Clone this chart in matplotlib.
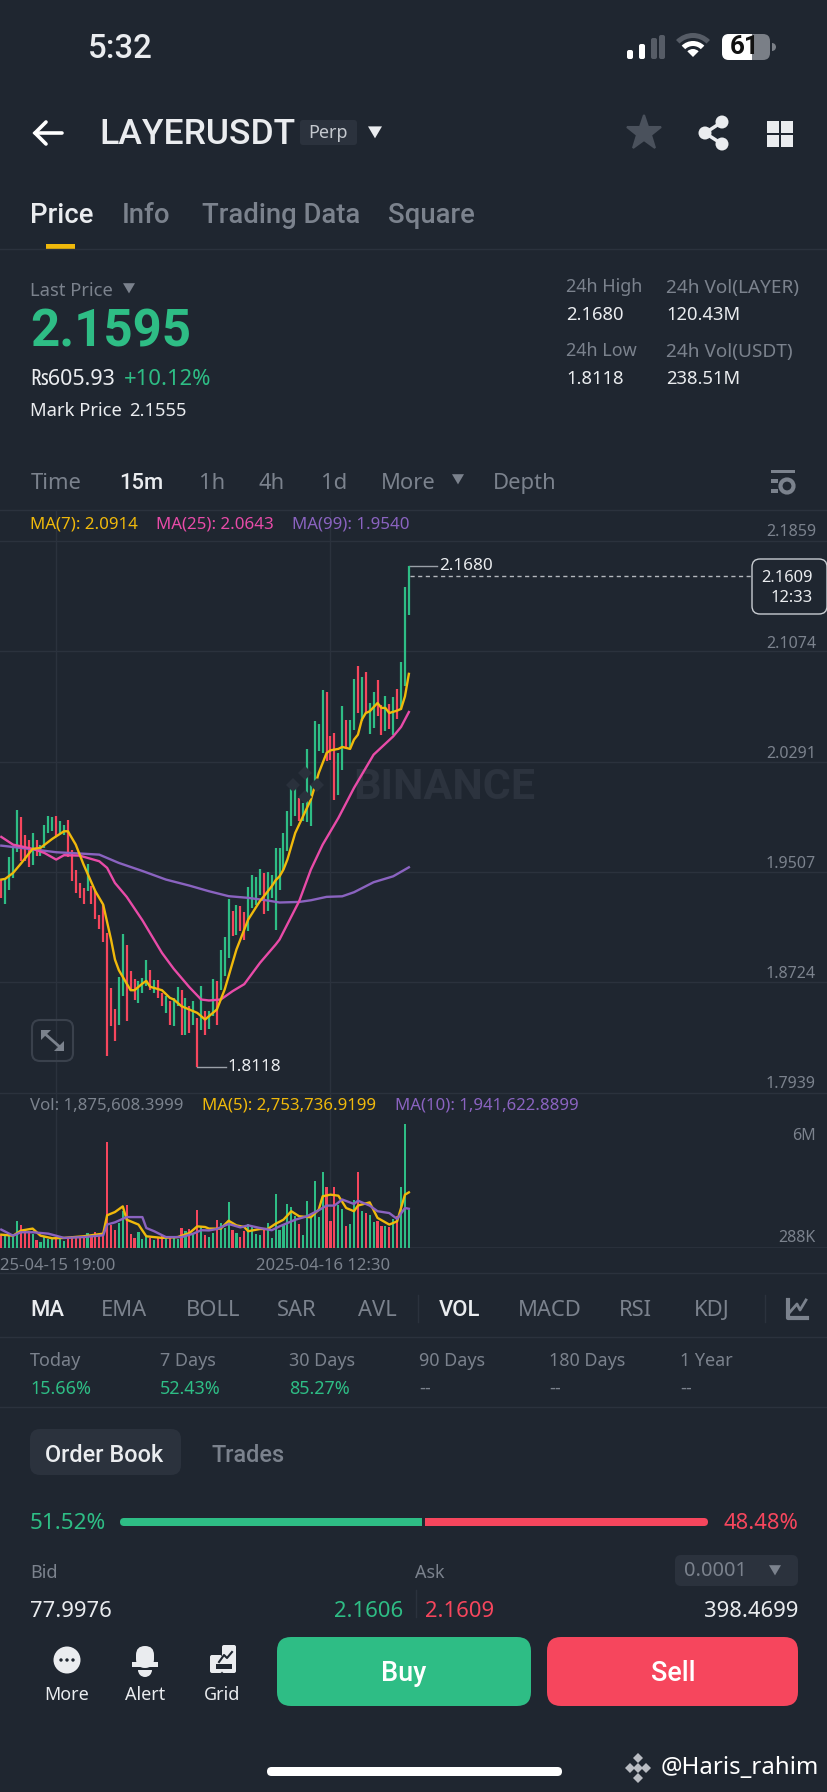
import matplotlib
matplotlib.use("Agg")
from matplotlib import pyplot as plt
from matplotlib.patches import FancyBboxPatch, Rectangle, Circle, Polygon, Wedge

plt.rcParams['font.family'] = ['Noto Sans', 'DejaVu Sans']

# -- DATA --:
candle_up = ("RGGGGRRRGR" "GGGGRGGRRR" "RRGRRRRRRR" "GGRRRGGGRG" "RRGRGGRGRG"
             "RGRGGRGGGR" "GRRGGGGRGG" "GGGGGGRGGG" "GGGRRRGGRG" "GRGRGGRRGR" "GRGGG")
highs = [1.9453, 1.9465, 1.9614, 1.9678, 1.9950, 1.9896, 1.9772, 1.9737, 1.9784, 1.9737,
         1.9701, 1.9843, 1.9907, 1.9898, 1.9907, 1.9872, 1.9843, 1.9874, 1.9666, 1.9524,
         1.9429, 1.9394, 1.9566, 1.9406, 1.9370, 1.9204, 1.9275, 1.9074, 1.8684, 1.8530,
         1.8762, 1.9069, 1.8991, 1.8802, 1.8750, 1.8731, 1.8755, 1.8885, 1.8809, 1.8743,
         1.8743, 1.8648, 1.8625, 1.8589, 1.8613, 1.8688, 1.8672, 1.8613, 1.8553, 1.8589,
         1.8471, 1.8700, 1.8518, 1.8518, 1.8750, 1.8731, 1.8951, 1.9046, 1.9316, 1.9228,
         1.9275, 1.9268, 1.9221, 1.9398, 1.9488, 1.9472, 1.9528, 1.9500, 1.9507, 1.9483,
         1.9678, 1.9678, 1.9784, 1.9943, 2.0099, 2.0108, 2.0033, 1.9997, 2.0381, 2.0127,
         2.0577, 2.0558, 2.0802, 2.0785, 2.0470, 2.0494, 2.0352, 2.0684, 2.0589, 2.0584,
         2.0878, 2.0968, 2.0889, 2.0927, 2.0707, 2.0785, 2.0873, 2.0695, 2.0754, 2.0702,
         2.0750, 2.0809, 2.0998, 2.1531, 2.1680]
lows = [1.9323, 1.9280, 1.9382, 1.9465, 1.9647, 1.9583, 1.9583, 1.9543, 1.9559, 1.9619,
        1.9619, 1.9678, 1.9784, 1.9796, 1.9761, 1.9784, 1.9772, 1.9614, 1.9441, 1.9358,
        1.9323, 1.9282, 1.9370, 1.9280, 1.9176, 1.9105, 1.9008, 1.8198, 1.8411, 1.8305,
        1.8423, 1.8629, 1.8447, 1.8660, 1.8601, 1.8577, 1.8648, 1.8695, 1.8672, 1.8648,
        1.8613, 1.8553, 1.8506, 1.8423, 1.8411, 1.8553, 1.8352, 1.8352, 1.8364, 1.8423,
        1.8118, 1.8383, 1.8352, 1.8392, 1.8482, 1.8419, 1.8667, 1.8766, 1.8897, 1.9050,
        1.9062, 1.9086, 1.9027, 1.9090, 1.9251, 1.9275, 1.9346, 1.9211, 1.9228, 1.9322,
        1.9093, 1.9382, 1.9524, 1.9654, 1.9831, 1.9907, 1.9867, 1.9867, 1.9860, 1.9831,
        2.0139, 2.0364, 2.0352, 2.0293, 2.0305, 2.0016, 2.0056, 2.0234, 2.0388, 2.0388,
        2.0518, 2.0636, 2.0577, 2.0636, 2.0489, 2.0530, 2.0612, 2.0478, 2.0506, 2.0523,
        2.0482, 2.0596, 2.0660, 2.0826, 2.1334]
ma7_idx = [0, 1, 3, 5, 8, 10, 13, 16, 17, 19, 21, 24, 26, 28, 29, 30, 32, 33, 34, 36, 37, 38, 41, 43, 44,
           46, 50, 52, 55, 57, 60, 63, 66, 67, 69, 70, 71, 72, 73, 75, 78, 79, 81, 83, 84, 86, 87, 89, 90,
           91, 92, 93, 94, 96, 97, 98, 99, 101, 102, 103, 104]
ma7_val = [1.9453, 1.9458, 1.9500, 1.9566, 1.9671, 1.9678, 1.9742, 1.9796, 1.9796, 1.9701, 1.9559, 1.9370,
           1.9275, 1.9027, 1.8885, 1.8809, 1.8714, 1.8667, 1.8667, 1.8714, 1.8733, 1.8691, 1.8667, 1.8613,
           1.8601, 1.8553, 1.8506, 1.8459, 1.8530, 1.8672, 1.8956, 1.9169, 1.9300, 1.9334, 1.9405, 1.9448,
           1.9476, 1.9524, 1.9595, 1.9784, 1.9962, 2.0021, 2.0210, 2.0352, 2.0371, 2.0381, 2.0395, 2.0381,
           2.0447, 2.0482, 2.0589, 2.0636, 2.0648, 2.0707, 2.0672, 2.0672, 2.0636, 2.0653, 2.0665, 2.0754,
           2.0914]
ma25_idx = [0, 3, 8, 11, 14, 16, 20, 25, 27, 29, 32, 36, 41, 44, 48, 51, 53, 56, 59, 62, 66, 70, 71, 76,
            79, 82, 86, 90, 95, 100, 102, 104]
ma25_val = [1.9756, 1.9701, 1.9671, 1.9642, 1.9595, 1.9626, 1.9623, 1.9583, 1.9536, 1.9429, 1.9330, 1.9164,
            1.8932, 1.8819, 1.8688, 1.8601, 1.8594, 1.8601, 1.8660, 1.8710, 1.8861, 1.8991, 1.9027, 1.9299,
            1.9524, 1.9701, 1.9890, 2.0104, 2.0340, 2.0470, 2.0537, 2.0643]
ma99_idx = [0, 5, 10, 14, 20, 25, 30, 36, 42, 48, 53, 58, 63, 68, 71, 76, 79, 83, 87, 90, 95, 100, 104]
ma99_val = [1.9694, 1.9678, 1.9661, 1.9647, 1.9638, 1.9630, 1.9571, 1.9514, 1.9453, 1.9410, 1.9370, 1.9335,
            1.9323, 1.9304, 1.9290, 1.9294, 1.9306, 1.9330, 1.9334, 1.9363, 1.9434, 1.9476, 1.9540]
price_ticks = [2.1859, 2.1074, 2.0291, 1.9507, 1.8724, 1.7939]
price_high = 2.1680
price_low = 1.8118
price_now = 2.1609

volumes = [.66, .66, .58, .61, 1.32, 1.16, .86, .83, .71, .41, .30, .54, .46, .45, .54, .45, .36, .46, .58, .61,
           .48, .54, .74, .66, .81, .71, .74, 5.23, 1.14, .91, 1.24, 1.82, 2.15, .71, .50, .78, .45, .61, .50, .41,
           .54, .58, .58, .61, .58, .45, .99, .86, .96, .74, 1.90, 1.04, .63, .54, .74, 1.37, 1.24, .99, 2.28, .87,
           .74, .53, .83, 1.19, 1.07, .71, .66, .91, 1.24, .50, 2.69, .91, 1.20, 2.18, 2.03, 1.57, 1.20, .66, 2.34,
           1.49, 3.30, 1.52, 3.76, 3.00, 1.32, 3.00, 2.15, 1.95, 1.11, 1.19, 2.39, 3.76, 1.82, 1.73, 1.65, 1.27,
           1.35, 1.11, 1.11, 1.02, 1.44, 1.60, 3.00, 6.14, 1.8756]
vol_ma5_idx = [0, 3, 5, 8, 10, 13, 16, 21, 26, 27, 29, 31, 32, 35, 37, 41, 45, 48, 50, 52, 53, 56, 58, 60, 62,
               63, 66, 68, 70, 72, 74, 76, 79, 81, 82, 84, 86, 88, 90, 91, 94, 96, 99, 101, 103, 104]
vol_ma5_val = [.66, .61, .86, .96, .61, .48, .50, .58, .71, 1.62, 1.78, 2.06, 1.40, 1.16, .58, .50, .54, .74, 1.07,
               1.04, .96, .96, 1.35, 1.12, 1.04, .83, .94, .94, 1.20, 1.40, 1.82, 1.57, 1.52, 1.90, 2.56, 2.64,
               2.59, 1.98, 1.82, 2.10, 2.26, 1.49, 1.16, 1.32, 2.64, 2.7537]
vol_ma10_idx = [0, 3, 5, 8, 12, 16, 21, 26, 27, 29, 32, 36, 37, 39, 42, 46, 49, 51, 53, 55, 58, 61, 63, 66, 69,
                71, 75, 78, 81, 83, 85, 87, 90, 91, 94, 96, 99, 101, 103, 104]
vol_ma10_val = [.91, .61, .78, .78, .71, .50, .54, .63, 1.16, 1.27, 1.53, 1.53, .99, .83, .54, .54, .71, .88, .87,
                .94, 1.19, 1.02, 1.12, .99, .88, 1.07, 1.40, 1.57, 1.87, 2.10, 2.10, 2.40, 2.18, 2.34, 2.10, 1.82,
                1.73, 1.44, 1.98, 1.9416]
time_idx = [14, 84]
time_labels = ["25-04-15 19:00", "2025-04-16 12:30"]

order_pcts = [51.52, 48.48]

# -- STYLE --:
BG = "#1f2630"
GRID = "#2b323d"
GREEN = "#2ebd85"
RED = "#f6465d"
YELLOW = "#f0b90b"
PINK = "#e84ba8"
PURPLE = "#8a63c0"
GREY = "#7b828d"
WHITE = "#eaecef"

W, H = 828, 1792
fig = plt.figure(figsize=(W / 100, H / 100), dpi=100, facecolor=BG)


def px_axes(top, bottom):
    return fig.add_axes([0, 1 - bottom / H, 1, (bottom - top) / H], facecolor="none")


# -- CHART --:
ax = px_axes(510, 1092.7)
ax.set_xlim(-0.332, 210.95)
ax.set_ylim(1.7939, 2.2078)
ax.set_axis_off()
for tick in price_ticks[:-1]:
    ax.axhline(tick, color=GRID, lw=1, zorder=1)
for t in time_idx:
    ax.axvline(t, color=GRID, lw=1, zorder=1)

ax.text(0.537, 0.524, "BINANCE", transform=ax.transAxes, color="#2c333e", fontsize=31, fontweight="bold",
        family="Roboto", ha="center", va="center", zorder=1.5)

colors = [GREEN if c == "G" else RED for c in candle_up]
ax.vlines(range(len(highs)), lows, highs, colors=colors, lw=1.6, zorder=3)
ax.plot(ma99_idx, ma99_val, color=PURPLE, lw=1.7, zorder=4)
ax.plot(ma25_idx, ma25_val, color=PINK, lw=1.7, zorder=4)
ax.plot(ma7_idx, ma7_val, color=YELLOW, lw=1.7, zorder=5)

last = len(highs) - 1
low_i = lows.index(min(lows))
ax.plot([last, last + 7.3], [price_high, price_high], color="#9aa0a8", lw=1, zorder=2)
ax.plot([low_i, low_i + 7.3], [price_low, price_low], color="#9aa0a8", lw=1, zorder=2)
ax.text(last + 7.7, price_high, "%.4f" % price_high, color=WHITE, fontsize=12.3, va="center")
ax.text(low_i + 7.7, price_low, "%.4f" % price_low, color=WHITE, fontsize=12.3, va="center")
ax.plot([last + 0.3, 191.8], [price_now, price_now], color="#b4b8be", lw=1, dashes=(3, 2.5), zorder=3)

# -- VOLUME --:
vax = px_axes(1093, 1248)
vax.set_xlim(ax.get_xlim())
vax.set_ylim(0, 155 * 0.0495)
vax.set_axis_off()
vax.axhline(0, color=GRID, lw=2, zorder=1)
for t in time_idx:
    vax.axvline(t, color=GRID, lw=1, zorder=1)
vax.bar(range(len(volumes)), volumes, width=0.55, color=colors, zorder=3)
vax.plot(vol_ma5_idx, vol_ma5_val, color=YELLOW, lw=1.7, zorder=4)
vax.plot(vol_ma10_idx, vol_ma10_val, color=PURPLE, lw=1.7, zorder=5)
for t, label in zip(time_idx, time_labels):
    vax.annotate(label, xy=(t, 0), xytext=(42.8, -13), textcoords="offset points", ha="right", va="center",
                 color=GREY, fontsize=12, annotation_clip=False)

# -- APP SCREEN AROUND THE CHART --:
ui = fig.add_axes([0, 0, 1, 1], facecolor="none")
ui.set_xlim(0, W)
ui.set_ylim(H, 0)
ui.set_axis_off()


def txt(x, y, s, color=WHITE, size=18, ha="left", weight="normal", **kw):
    ui.text(x, y + 3.5, s, color=color, fontsize=size * 0.72, ha=ha, va="center", fontweight=weight, **kw)


def rbox(x0, y0, x1, y1, r, fc="none", ec="none", lw=1):
    ui.add_patch(FancyBboxPatch((x0 + r, y0 + r), x1 - x0 - 2 * r, y1 - y0 - 2 * r,
                                boxstyle="round,pad=%g,rounding_size=%g" % (r, r), fc=fc, ec=ec, lw=lw))


def tri(x, y, size=6, color=GREY):
    ui.add_patch(Polygon([(x - size, y - size * 0.8), (x + size, y - size * 0.8), (x, y + size * 0.9)], fc=color, ec="none"))


def hline(y, x0=0, x1=W):
    ui.plot([x0, x1], [y, y], color=GRID, lw=1)


# status bar
txt(88, 45, "5:32", size=33, weight="medium", family="Roboto")
for x, h, c in zip([627, 639, 651, 659], [9, 15, 21, 24], ["white", "white", "#565c66", "#565c66"]):
    rbox(x, 59 - h, x + 6, 59, 2, fc=c)
ui.add_patch(Wedge((693, 57), 24, 225, 315, width=5, fc="#565c66"))
ui.add_patch(Wedge((693, 57), 16, 225, 315, width=5, fc="white"))
ui.add_patch(Wedge((693, 57), 8, 225, 315, fc="white"))
rbox(722, 34, 770, 60, 7, fc="#7a7f87")
rbox(722, 34, 752, 60, 7, fc="white")
ui.add_patch(Rectangle((745, 34), 7, 26, fc="white"))
txt(745, 44, "61", color="#111111", size=26, ha="center", weight="bold", family="Roboto")
ui.add_patch(Wedge((772, 47), 4, 270, 90, fc="#7a7f87"))

# header
ui.plot([35, 62], [133, 133], color="white", lw=2.6, solid_capstyle="round")
ui.plot([46, 35, 46], [122, 133, 144], color="white", lw=2.6, solid_capstyle="round", solid_joinstyle="miter")
txt(99, 131, "LAYERUSDT", size=35.5, weight="medium", family="Roboto")
rbox(300, 120, 357, 145, 3, fc="#2b323d")
txt(328.5, 130, "Perp", color="#c4c8ce", size=18, ha="center")
tri(375, 132, 7, WHITE)
ui.plot([644], [133], marker="*", ms=26, color="#4a515c", mec="#4a515c", mew=1.5)
for cx, cy in [(705, 133), (722, 122), (722, 144)]:
    ui.add_patch(Circle((cx, cy), 6.5, fc=WHITE))
ui.plot([722, 705, 722], [122, 133, 144], color=WHITE, lw=2.5)
for x, y in [(767, 121), (781, 121), (767, 135), (781, 135)]:
    ui.add_patch(Rectangle((x, y), 12, 12, fc=WHITE))

# tabs
for x, s, c in [(30, "Price", WHITE), (122, "Info", GREY), (202, "Trading Data", GREY), (388, "Square", GREY)]:
    txt(x, 212, s, color=c, size=27.5, weight="medium", family="Roboto")
ui.add_patch(Rectangle((46, 244), 29, 5, fc=YELLOW))
hline(249.5)

# price block
txt(30, 287, "Last Price", color=GREY, size=18.4)
tri(129, 288, 6)
txt(30, 329, "2.1595", color=GREEN, size=51, weight="bold", family="Roboto")
txt(30, 376, "₨605.93", size=21.5)
txt(124, 376, "+10.12%", color=GREEN, size=22)
txt(30, 408, "Mark Price", size=18.4)
txt(129, 408, "2.1555", size=18.4)
for x, a, b, c, d, label_size in [(566, "24h High", "2.1680", "24h Low", "1.8118", 18),
                                  (666, "24h Vol(LAYER)", "120.43M", "24h Vol(USDT)", "238.51M", 19)]:
    txt(x, 284, a, color=GREY, size=label_size)
    txt(x, 311, b, size=18.4)
    txt(x, 348, c, color=GREY, size=label_size)
    txt(x, 375, d, size=18.4)

# interval row
for x, s, c, w, f in [(31, "Time", GREY, "normal", "Noto Sans"), (119, "15m", WHITE, "medium", "Roboto"),
                      (199, "1h", GREY, "normal", "Noto Sans"), (259, "4h", GREY, "normal", "Noto Sans"),
                      (321, "1d", GREY, "normal", "Noto Sans"), (381, "More", GREY, "normal", "Noto Sans"),
                      (493, "Depth", GREY, "normal", "Noto Sans")]:
    txt(x, 480, s, color=c, size=22, weight=w, family=f)
tri(458, 479, 6)
ui.add_patch(Rectangle((771, 470), 24, 3, fc=GREY))
ui.add_patch(Rectangle((771, 479), 7, 4, fc=GREY))
ui.add_patch(Rectangle((771, 489), 7, 4, fc=GREY))
ui.add_patch(Circle((787, 486), 6.5, fc="none", ec=GREY, lw=3))
hline(510.5)

txt(30, 521, "MA(7): 2.0914", color=YELLOW, size=16.9)
txt(156, 521, "MA(25): 2.0643", color=PINK, size=16.9)
txt(292, 521, "MA(99): 1.9540", color=PURPLE, size=16.9)
price_label_y = [529, 640, 750, 860, 971, 1080]
for tick, y in zip(price_ticks, price_label_y):
    txt(816, y, "%.4f" % tick, color=GREY, size=16, ha="right")

rbox(752, 559, 827, 614, 8, fc=BG, ec="#c8ccd1", lw=1)
txt(813, 574, "%.4f" % price_now, size=16.5, ha="right")
txt(813, 595, "12:33", size=16.5, ha="right")

# logo next to the BINANCE watermark
for x, y in [(305, 773), (293, 785), (317, 785), (305, 797)]:
    ui.add_patch(Polygon([(x, y - 7), (x + 7, y), (x, y + 7), (x - 7, y)], fc="#2a313c"))

# expand button
rbox(32, 1020, 73, 1061, 8, fc="none", ec="#3a414c", lw=1.5)
ui.add_patch(Polygon([(41, 1030), (51, 1030), (41, 1040)], fc=GREY))
ui.add_patch(Polygon([(64, 1051), (54, 1051), (64, 1041)], fc=GREY))
ui.plot([44, 61], [1033, 1048], color=GREY, lw=2)

hline(1093)
txt(30, 1102.5, "Vol: 1,875,608.3999", color=GREY, size=16.8)
txt(202, 1102.5, "MA(5): 2,753,736.9199", color=YELLOW, size=16.8)
txt(395, 1102.5, "MA(10): 1,941,622.8899", color=PURPLE, size=16.8)
txt(816, 1132, "6M", color=GREY, size=16, ha="right")
txt(816, 1234, "288K", color=GREY, size=16, ha="right")
hline(1273)

# indicator row
for x, s, c, w, f in [(30, "MA", WHITE, "medium", "Roboto"), (101, "EMA", GREY, "normal", "Noto Sans"),
                      (186, "BOLL", GREY, "normal", "Noto Sans"), (277, "SAR", GREY, "normal", "Noto Sans"),
                      (358, "AVL", GREY, "normal", "Noto Sans"), (439, "VOL", WHITE, "medium", "Roboto"),
                      (518, "MACD", GREY, "normal", "Noto Sans"), (619, "RSI", GREY, "normal", "Noto Sans"),
                      (694, "KDJ", GREY, "normal", "Noto Sans")]:
    txt(x, 1307, s, color=c, size=22, weight=w, family=f)
ui.plot([418, 418], [1295, 1322], color=GRID, lw=1)
ui.plot([765, 765], [1295, 1322], color=GRID, lw=1)
ui.plot([788, 788, 807], [1300, 1318, 1318], color=GREY, lw=3)
ui.plot([790, 797, 800, 806], [1312, 1304, 1310, 1300], color=GREY, lw=2)
hline(1337)

# change stats
for x, a, b in [(30, "Today", "15.66%"), (160, "7 Days", "52.43%"), (289, "30 Days", "85.27%"),
                (419, "90 Days", "--"), (549, "180 Days", "--"), (680, "1 Year", "--")]:
    txt(x, 1358, a, color=GREY, size=18)
    txt(x, 1385, b, color=GREEN if b != "--" else GREY, size=18)
hline(1407)

# order book
rbox(30, 1429, 181, 1475, 10, fc="#2b323d")
txt(45, 1452, "Order Book", size=23.5, weight="medium", family="Roboto")
txt(212, 1452, "Trades", color=GREY, size=23.5, weight="medium", family="Roboto")
txt(30, 1520, "%.2f%%" % order_pcts[0], color=GREEN, size=22.5)
txt(798, 1520, "%.2f%%" % order_pcts[1], color=RED, size=22, ha="right")
split = 120 + 588 * order_pcts[0] / 100
rbox(120, 1518, split - 1, 1526, 4, fc=GREEN)
rbox(split + 2.5, 1518, 708, 1526, 4, fc=RED)
ui.add_patch(Rectangle((split - 6, 1518), 5, 8, fc=GREEN))
ui.add_patch(Rectangle((split + 2.5, 1518), 5, 8, fc=RED))
txt(30, 1569, "Bid", color=GREY, size=18)
txt(415, 1569, "Ask", color=GREY, size=18)
rbox(675, 1555, 798, 1586, 6, fc="#2b323d")
txt(684, 1568, "0.0001", color=GREY, size=20)
tri(775, 1570, 6)
txt(30, 1608, "77.9976", size=22)
txt(403, 1608, "2.1606", color=GREEN, size=22, ha="right")
txt(425, 1608, "2.1609", color=RED, size=22)
txt(798, 1608, "398.4699", size=22, ha="right")
ui.plot([416, 416], [1590, 1617], color=GRID, lw=1)

# bottom bar
ui.add_patch(Circle((67, 1660), 13.5, fc=WHITE))
for x in [61, 67, 73]:
    ui.add_patch(Circle((x, 1660), 1.7, fc=BG))
ui.add_patch(FancyBboxPatch((136, 1646), 18, 22, boxstyle="round,pad=0,rounding_size=9", fc=WHITE, ec="none"))
ui.add_patch(Rectangle((132, 1662), 26, 5, fc=WHITE))
ui.add_patch(Wedge((145, 1670), 7, 0, 180, fc=WHITE, ec="none"))
rbox(210, 1655, 222, 1673, 2, fc=WHITE)
rbox(222, 1645, 236, 1673, 2, fc=WHITE)
ui.plot([219, 224, 227, 232], [1662, 1655, 1658, 1652], color=BG, lw=1.5)
ui.add_patch(Rectangle((216, 1664), 16, 5, fc=BG))
for x, s in [(67, "More"), (145, "Alert"), (222, "Grid")]:
    txt(x, 1691, s, size=18, ha="center")
rbox(277, 1637, 531, 1706, 14, fc=GREEN)
rbox(547, 1637, 798, 1706, 14, fc=RED)
txt(404, 1670, "Buy", color="white", size=27, ha="center", weight="medium", family="Roboto")
txt(673, 1670, "Sell", color="white", size=27, ha="center", weight="medium", family="Roboto")

rbox(267, 1767, 562, 1776, 4.5, fc="white")
for x, y in [(638, 1758), (630, 1768), (646, 1768), (638, 1778), (638, 1768)]:
    ui.add_patch(Polygon([(x, y - 5), (x + 5, y), (x, y + 5), (x - 5, y)], fc="#b9bcc2"))
txt(819, 1764, "@Haris_rahim", color="white", size=24, ha="right")

fig.savefig("out.png", dpi=100, facecolor=BG)
